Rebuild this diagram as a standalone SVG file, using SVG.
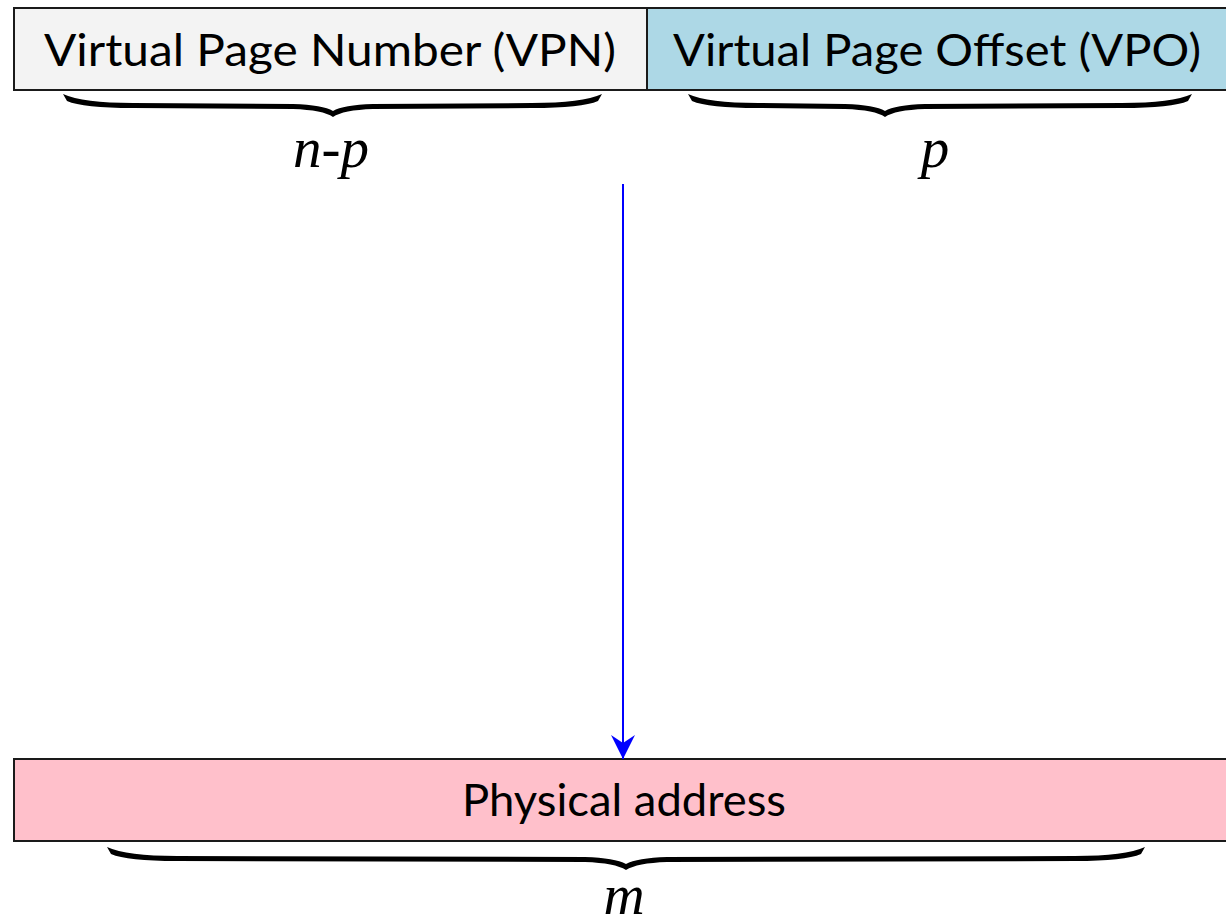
<svg xmlns="http://www.w3.org/2000/svg" width="1226" height="921" viewBox="0 0 1226 921">
  <style>
    .field { stroke: #1a1a1a; stroke-width: 2; }
    .label { font-family: Lato, "Open Sans", "Liberation Sans", sans-serif; font-size: 44px; fill: #000; text-anchor: middle; }
    .var { font-family: "Liberation Serif", "Times New Roman", serif; font-style: italic; font-size: 57px; fill: #000; text-anchor: middle; }
    .brace { fill: #000; }
    .link { stroke: #0000ff; stroke-width: 2; fill: none; }
  </style>
  <defs>
    <marker id="arrow" viewBox="0 0 24 26" refX="24" refY="12" markerWidth="24" markerHeight="26" markerUnits="userSpaceOnUse" orient="auto">
      <path d="M0,0 L24,12 L0,24 L8,12 Z" fill="#0000ff"/>
    </marker>
  </defs>

  <g id="vpn">
    <rect class="field" x="14" y="8" width="633" height="82" fill="#f3f3f3"/>
    <text class="label" x="330" y="66" textLength="572" lengthAdjust="spacingAndGlyphs">Virtual Page Number (VPN)</text>
    <path class="brace" d="M63,94 Q83,103 133,103 L293,104 Q323,105 333,111 Q343,105 373,104 L532,103 Q582,103 602,94 L598,101 Q582,108 532,108 L373,109 Q343,110 333,117 Q323,110 293,109 L133,108 Q83,108 67,101 Z"/>
    <text class="var" x="331" y="167">n-p</text>
  </g>

  <g id="vpo">
    <rect class="field" x="647" y="8" width="600" height="82" fill="#add8e6"/>
    <text class="label" x="937" y="66" textLength="528" lengthAdjust="spacingAndGlyphs">Virtual Page Offset (VPO)</text>
    <path class="brace" d="M688,94 Q708,103 758,103 L845,104 Q875,105 885,111 Q895,105 925,104 L1122,103 Q1172,103 1192,94 L1188,101 Q1172,108 1122,108 L925,109 Q895,110 885,117 Q875,110 845,109 L758,108 Q708,108 692,101 Z"/>
    <text class="var" x="935" y="167">p</text>
  </g>

  <g id="physical">
    <rect class="field" x="14" y="759" width="1233" height="82" fill="#ffc0cb"/>
    <text class="label" x="624" y="816" textLength="324" lengthAdjust="spacingAndGlyphs">Physical address</text>
    <path class="brace" d="M107,847 Q127,856 177,856 L585,857 Q615,858 626,864 Q637,858 667,857 L1075,856 Q1125,856 1145,847 L1141,854 Q1125,861 1075,861 L667,862 Q637,863 626,870 Q615,863 585,862 L177,861 Q127,861 111,854 Z"/>
    <text class="var" x="624" y="914">m</text>
  </g>

  <g id="connectors">
    <line class="link" x1="623" y1="184" x2="623" y2="759" marker-end="url(#arrow)"/>
  </g>
</svg>
